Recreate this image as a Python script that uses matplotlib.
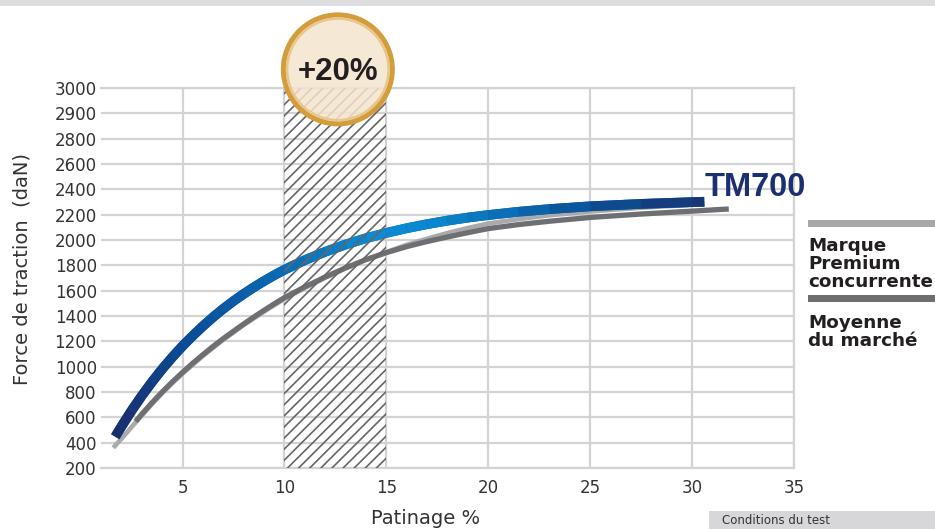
import numpy as np
import matplotlib
matplotlib.use("Agg")
import matplotlib.pyplot as plt
from matplotlib.collections import LineCollection
from matplotlib.colors import LinearSegmentedColormap, Normalize
from matplotlib.transforms import blended_transform_factory

plt.rcParams["hatch.linewidth"] = 1.2

# ---------------- data ----------------
y_ticks = [200, 400, 600, 800, 1000, 1200, 1400, 1600, 1800, 2000, 2200, 2400, 2600, 2800, 2900, 3000]
x_ticks = [5, 10, 15, 20, 25, 30, 35]

tm700_slip = [1.7, 2, 2.5, 3, 3.5, 4, 4.5, 5, 5.5, 6, 6.5, 7, 7.5, 8, 8.5, 9, 9.5, 10, 11, 12, 13, 14,
              15, 16, 17, 18, 19, 20, 21.5, 23, 25, 27.5, 30, 30.6]
tm700_force = [447, 527, 653, 770, 879, 981, 1075, 1163, 1244, 1320, 1391, 1457, 1518, 1574, 1627,
               1676, 1722, 1765, 1841, 1907, 1964, 2014, 2056, 2093, 2125, 2153, 2177, 2197, 2223,
               2244, 2266, 2285, 2299, 2302]

premium_slip = [1.6, 2, 2.7, 3, 3.5, 4, 4.5, 5, 6, 7, 8, 9, 10, 11, 12, 13, 14, 15, 16, 17, 18, 19,
                20, 21.5, 23, 25, 27.5, 30, 30.6]
premium_force = [360, 430, 560, 615, 705, 790, 870, 945, 1085, 1212, 1328, 1435, 1535, 1622, 1702,
                 1776, 1845, 1905, 1962, 2010, 2055, 2095, 2130, 2165, 2195, 2225, 2255, 2278, 2282]

market_slip = [2.7, 3, 3.5, 4, 4.5, 5, 5.5, 6, 6.5, 7, 7.5, 8, 8.5, 9, 9.5, 10, 11, 12, 13, 14, 15,
               16, 17, 18, 19, 20, 21.5, 23, 25, 27.5, 30, 31.8]
market_force = [568, 625, 715, 800, 880, 955, 1027, 1095, 1160, 1222, 1280, 1337, 1392, 1445, 1496,
                1545, 1630, 1708, 1780, 1845, 1900, 1948, 1988, 2024, 2058, 2090, 2122, 2148, 2178,
                2205, 2228, 2245]

highlight_range = (10, 15)
highlight_label = "+20%"

# ---------------- scale (equal spacing of tick values) ----------------
yt = np.array(y_ticks, float)
idx = np.arange(len(yt), dtype=float)


def fwd(v):
    v = np.asarray(v, float)
    out = np.interp(v, yt, idx)
    out = np.where(v < yt[0], (v - yt[0]) / 200.0, out)
    out = np.where(v > yt[-1], idx[-1] + (v - yt[-1]) / 100.0, out)
    return out


def inv(i):
    i = np.asarray(i, float)
    out = np.interp(i, idx, yt)
    out = np.where(i < 0, yt[0] + i * 200.0, out)
    out = np.where(i > idx[-1], yt[-1] + (i - idx[-1]) * 100.0, out)
    return out


W, H = 935, 529
fig = plt.figure(figsize=(W / 100, H / 100), dpi=100)
ax = fig.add_axes([101 / W, (H - 468) / H, (794 - 101) / W, (468 - 88) / H])
ax.set_yscale("function", functions=(fwd, inv))
ax.set_xlim(1, 35)
ax.set_ylim(200, 3000)

grid_c = "#d3d3d3"
ax.set_xticks(x_ticks)
ax.set_yticks(y_ticks)
ax.set_yticklabels([str(v) for v in y_ticks])
ax.minorticks_off()
ax.tick_params(axis="both", length=0, labelsize=12, labelcolor="#333333")
ax.tick_params(axis="x", pad=8)
ax.tick_params(axis="y", pad=3)
ax.grid(True, color=grid_c, lw=1.6)
ax.set_axisbelow(True)
for s in ["top", "bottom", "right"]:
    ax.spines[s].set_color(grid_c)
    ax.spines[s].set_linewidth(1.6)
ax.spines["left"].set_visible(False)

# ---------------- curves ----------------
ax.plot(premium_slip, premium_force, color="#a9aaac", lw=3.3, solid_capstyle="butt",
        solid_joinstyle="round", zorder=2)
ax.plot(market_slip, market_force, color="#6e6f72", lw=3.8, solid_capstyle="butt",
        solid_joinstyle="round", zorder=3)

x0, x1 = tm700_slip[0], tm700_slip[-1]
span = x1 - x0
cmap = LinearSegmentedColormap.from_list(
    "tm700",
    [(0.0, "#1b2d6b"), ((5 - x0) / span, "#0b4b93"), ((10 - x0) / span, "#0a6cb6"),
     ((14 - x0) / span, "#0a8bd3"), ((17 - x0) / span, "#0a89d0"), ((21 - x0) / span, "#0a6db5"),
     ((25 - x0) / span, "#0a5097"), (1.0, "#1b3472")])
norm = Normalize(x0, x1)
ax.plot(tm700_slip, tm700_force, color="#0b5aa5", lw=7.0, solid_capstyle="butt",
        solid_joinstyle="round", zorder=4)
pts = np.column_stack([tm700_slip, tm700_force])
segs = np.stack([pts[:-1], pts[1:]], axis=1)
mids = (np.array(tm700_slip[:-1]) + np.array(tm700_slip[1:])) / 2
lc = LineCollection(segs, colors=cmap(norm(mids)), linewidths=7.0, capstyle="butt", zorder=4.5)
ax.add_collection(lc)

# ---------------- highlight band ----------------
ax.axvspan(highlight_range[0], highlight_range[1], facecolor="none", edgecolor="#666666",
           hatch="///", lw=0, zorder=5)

bt = blended_transform_factory(ax.transData, ax.transAxes)
cx = 12.62
ax.scatter([cx], [1.049], s=6160, facecolor="#f4e4cd", alpha=0.85, edgecolor="none",
           transform=bt, clip_on=False, zorder=6)
ax.scatter([cx], [1.049], s=6160, facecolor="none", edgecolor="#d39d3c", linewidths=3.6,
           transform=bt, clip_on=False, zorder=6.2)
ax.scatter([cx], [1.049], s=5340, facecolor="none", edgecolor="#e8c68c", linewidths=1.8,
           transform=bt, clip_on=False, zorder=6.3)
ax.text(cx, 1.043, highlight_label, transform=bt, ha="center", va="center",
        fontsize=22.5, fontweight="bold", family="Liberation Sans", color="#231f20", zorder=7)

# ---------------- labels ----------------
ax.set_ylabel("Force de traction  (daN)", fontsize=14, color="#333333")
ax.yaxis.set_label_coords(-0.10, 0.524)
fig.text(426 / W, 1 - 519 / H, "Patinage %", ha="center", va="center", fontsize=14, color="#333333")

fig.text(705 / W, 1 - 187.5 / H, "TM700", ha="left", va="center", fontsize=23.5,
         fontweight="bold", family="Liberation Sans", color="#1b3070")

# legend bars + text on the right
fig.patches.append(plt.Rectangle((808 / W, 1 - 226.7 / H), (W - 808) / W, 6.7 / H,
                                 transform=fig.transFigure, color="#a6a7a9", lw=0))
fig.patches.append(plt.Rectangle((808 / W, 1 - 302 / H), (W - 808) / W, 7 / H,
                                 transform=fig.transFigure, color="#6d6e70", lw=0))
for txt, base in [("Marque", 250.7), ("Premium", 269), ("concurrente", 287.3),
                  ("Moyenne", 328.3), ("du marché", 346.5)]:
    fig.text(808 / W, 1 - base / H, txt, ha="left", va="baseline", fontsize=13.2,
             fontweight="bold", color="#231f20")

# top band
fig.patches.append(plt.Rectangle((0, 1 - 5.5 / H), 1, 5.5 / H, transform=fig.transFigure,
                                 color="#dcdddf", lw=0))
# bottom-right box
fig.patches.append(plt.Rectangle((709 / W, 0), (W - 709) / W, 18 / H, transform=fig.transFigure,
                                 color="#d7d7d9", lw=0))
fig.text(722 / W, 2 / H, "Conditions du test", ha="left", va="bottom", fontsize=8.5,
         color="#333333")

fig.savefig("out.png", dpi=100)
